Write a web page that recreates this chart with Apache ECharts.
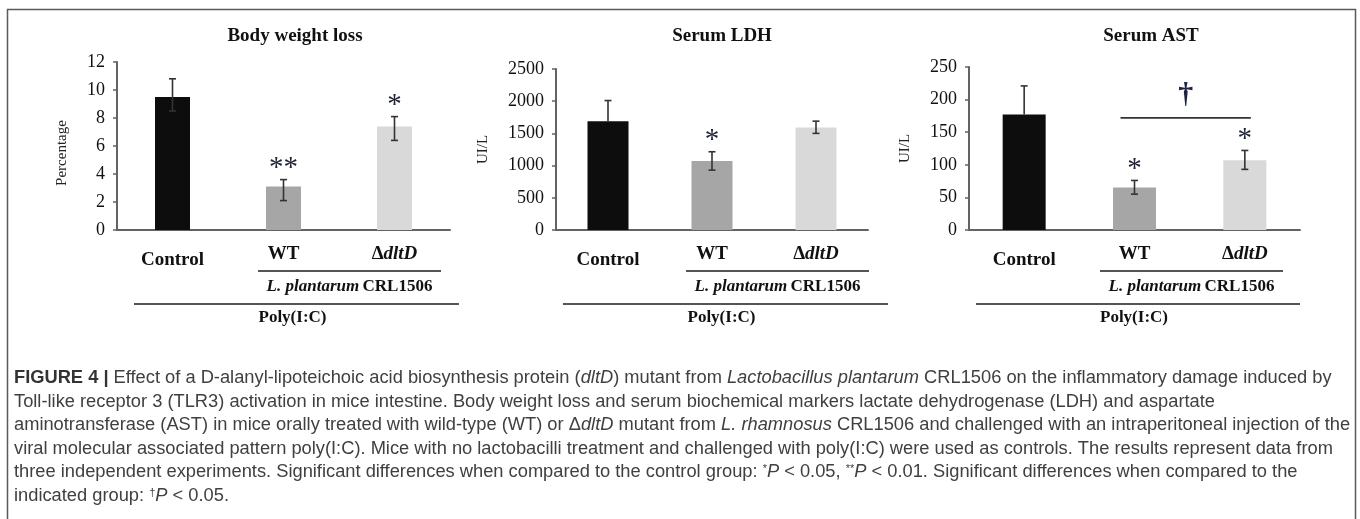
<!DOCTYPE html>
<html>
<head>
<meta charset="utf-8">
<script src="https://cdn.jsdelivr.net/npm/echarts@6/dist/echarts.min.js"></script>
<style>
  html, body { margin: 0; padding: 0; background: #fff; }
  #chart { width: 1360px; height: 519px; }
</style>
</head>
<body>
<div id="chart"></div>
<script>
const SERIF = '"Liberation Serif", "Times New Roman", serif';
const SANS = '"Liberation Sans", Arial, sans-serif';

// groups along every x axis
const categories = ['Control', 'WT', 'ΔdltD'];
const barColors = ['#0d0d0d', '#a6a6a6', '#d9d9d9'];

// body weight loss (%), bar + error bar ends
const weightLoss = [9.5, 3.1, 7.4];
const weightLossLow = [8.5, 2.1, 6.4];
const weightLossHigh = [10.8, 3.6, 8.1];
const weightLossSig = ['', '**', '*'];

// serum LDH (UI/L) — control only shows the upper whisker
const ldh = [1690, 1070, 1590];
const ldhLow = [1690, 930, 1500];
const ldhHigh = [2010, 1215, 1690];
const ldhSig = ['', '*', ''];

// serum AST (UI/L)
const ast = [177, 65, 107];
const astLow = [177, 55, 93];
const astHigh = [221, 76, 122];
const astSig = ['', '*', '*'];
const astBracket = [1, 2, 172]; // WT vs ΔdltD, dagger
const astBracketMark = '†';

// y axis ranges: [max, interval]
const weightLossAxis = [12, 2];
const ldhAxis = [2500, 500];
const astAxis = [250, 50];

const captionLines = [
  '{b|FIGURE 4 |} Effect of a D-alanyl-lipoteichoic acid biosynthesis protein ({i|dltD}) mutant from {i|Lactobacillus plantarum} CRL1506 on the inflammatory damage induced by',
  'Toll-like receptor 3 (TLR3) activation in mice intestine. Body weight loss and serum biochemical markers lactate dehydrogenase (LDH) and aspartate',
  'aminotransferase (AST) in mice orally treated with wild-type (WT) or Δ{i|dltD} mutant from {i|L. rhamnosus} CRL1506 and challenged with an intraperitoneal injection of the',
  'viral molecular associated pattern poly(I:C). Mice with no lactobacilli treatment and challenged with poly(I:C) were used as controls. The results represent data from',
  'three independent experiments. Significant differences when compared to the control group: {s|*}{i|P} < 0.05, {s|**}{i|P} < 0.01. Significant differences when compared to the',
  'indicated group: {s|†}{i|P} < 0.05.'
];

// panel layout (pixels) — tree/poly are offsets from the grid's left edge
const panels = [
  { title: 'Body weight loss', titleX: 290, left: 117, top: 62, width: 333, yName: 'Percentage', nameGap: 47, namePad: [0, 14, 0, 0],
    axis: weightLossAxis, values: weightLoss, low: weightLossLow, high: weightLossHigh, sig: weightLossSig, barWidth: 35, tree: [141, 324], poly: [17, 342] },
  { title: 'Serum LDH', titleX: 717, left: 556, top: 69, width: 312, yName: 'UI/L', nameGap: 65, namePad: 0,
    axis: ldhAxis, values: ldh, low: ldhLow, high: ldhHigh, sig: ldhSig, barWidth: 41, tree: [130, 313], poly: [7, 332] },
  { title: 'Serum AST', titleX: 1146, left: 969, top: 67, width: 331, yName: 'UI/L', nameGap: 56, namePad: 0,
    axis: astAxis, values: ast, low: astLow, high: astHigh, sig: astSig, barWidth: 43, tree: [131, 314], poly: [7, 331] }
];
const AXIS_Y = 230;

const chart = echarts.init(document.getElementById('chart'), null, { renderer: 'canvas' });

const axisLine = { lineStyle: { color: '#636363', width: 2 } };

const grid = panels.map(p => ({ left: p.left, top: p.top, width: p.width, height: AXIS_Y - p.top }));

const title = panels.map(p => ({
  text: p.title, left: p.titleX, top: 22, textAlign: 'center',
  textStyle: { fontFamily: SERIF, fontSize: 19, fontWeight: 'bold', color: '#111' }
}));

const xAxis = panels.map((p, k) => ({
  type: 'category', gridIndex: k, data: categories,
  axisLine, axisTick: { show: false },
  axisLabel: {
    interval: 0, margin: 15, color: '#111',
    formatter: v => v === 'Control' ? '{c|Control}' : v.charAt(0) === 'Δ' ? '{d|Δ}{i|' + v.slice(1) + '}' : '{b|' + v + '}',
    rich: {
      c: { fontFamily: SERIF, fontSize: 19, fontWeight: 'bold', color: '#111', padding: [6, 0, 0, 0] },
      b: { fontFamily: SERIF, fontSize: 19, fontWeight: 'bold', color: '#111' },
      d: { fontFamily: SERIF, fontSize: 19, fontWeight: 'bold', color: '#111' },
      i: { fontFamily: SERIF, fontSize: 19, fontWeight: 'bold', fontStyle: 'italic', color: '#111' }
    }
  }
}));

const yAxis = panels.map((p, k) => ({
  type: 'value', gridIndex: k, min: 0, max: p.axis[0], interval: p.axis[1],
  name: p.yName, nameLocation: 'middle', nameGap: p.nameGap,
  nameTextStyle: { fontFamily: SERIF, fontSize: 15, color: '#222', padding: p.namePad },
  axisLine: { show: true, lineStyle: axisLine.lineStyle },
  axisTick: { show: true, length: 4, lineStyle: { color: '#636363', width: 1.5 } },
  axisLabel: { fontFamily: SERIF, fontSize: 18, color: '#111', margin: 12, formatter: v => String(v) },
  splitLine: { show: false }
}));

const series = [];
panels.forEach((p, k) => {
  series.push({
    type: 'bar', xAxisIndex: k, yAxisIndex: k, barWidth: p.barWidth, silent: true,
    data: p.values.map((v, i) => ({ value: v, itemStyle: { color: barColors[i] } }))
  });
  // error bars
  series.push({
    type: 'custom', xAxisIndex: k, yAxisIndex: k, silent: true, z: 3,
    encode: { x: 0, y: [1, 2] },
    data: p.values.map((v, i) => [i, p.low[i], p.high[i], v]),
    renderItem: (params, api) => {
      const i = api.value(0), lo = api.value(1), hi = api.value(2), v = api.value(3);
      const t = api.coord([i, hi]);
      const b = api.coord([i, lo]);
      const cap = 3.5;
      const st = { stroke: '#333', lineWidth: 1.6 };
      const children = [
        { type: 'line', shape: { x1: t[0], y1: t[1], x2: b[0], y2: b[1] }, style: st },
        { type: 'line', shape: { x1: t[0] - cap, y1: t[1], x2: t[0] + cap, y2: t[1] }, style: st }
      ];
      if (lo < v) children.push({ type: 'line', shape: { x1: b[0] - cap, y1: b[1], x2: b[0] + cap, y2: b[1] }, style: st });
      return { type: 'group', children };
    }
  });
  // significance stars above the whiskers
  series.push({
    type: 'custom', xAxisIndex: k, yAxisIndex: k, silent: true, z: 4,
    encode: { x: 0, y: 1 },
    data: p.values.map((v, i) => [i, p.high[i]]),
    renderItem: (params, api) => {
      const s = p.sig[params.dataIndex];
      if (!s) return null;
      const pt = api.coord([api.value(0), api.value(1)]);
      return {
        type: 'text', x: pt[0], y: pt[1] - 11,
        style: { text: s, fontFamily: SERIF, fontSize: 29, fill: '#1e2233', align: 'center', verticalAlign: 'middle' }
      };
    }
  });
});

// bracket between WT and ΔdltD on the AST panel
series.push({
  type: 'custom', xAxisIndex: 2, yAxisIndex: 2, silent: true, z: 4,
  encode: { x: 0, y: 2 },
  data: [astBracket],
  renderItem: (params, api) => {
    const a = api.coord([api.value(0), api.value(2)]);
    const b = api.coord([api.value(1), api.value(2)]);
    const x1 = a[0] - 14, x2 = b[0] + 6;
    return {
      type: 'group', children: [
        { type: 'line', shape: { x1, y1: a[1], x2, y2: a[1] }, style: { stroke: '#333', lineWidth: 1.6 } },
        { type: 'text', x: (x1 + x2) / 2, y: a[1] - 23,
          style: { text: astBracketMark, fontFamily: SERIF, fontSize: 30, fontWeight: 'bold', fill: '#1c2442', align: 'center', verticalAlign: 'middle' } }
      ]
    };
  }
});

// group brackets under the axes, frame and caption
const graphic = [
  { type: 'rect', shape: { x: 7.5, y: 9.5, width: 1348, height: 700 }, style: { fill: null, stroke: '#5a5a5a', lineWidth: 1.5 }, silent: true }
];
panels.forEach(p => {
  const t1 = p.left + p.tree[0], t2 = p.left + p.tree[1];
  const q1 = p.left + p.poly[0], q2 = p.left + p.poly[1];
  graphic.push(
    { type: 'line', shape: { x1: t1, y1: 271, x2: t2, y2: 271 }, style: { stroke: '#555', lineWidth: 2 }, silent: true },
    { type: 'text', x: (t1 + t2) / 2, y: 287, silent: true,
      style: { text: '{i|L. plantarum} {b|CRL1506}', align: 'center', verticalAlign: 'middle',
        rich: { i: { fontFamily: SERIF, fontSize: 17, fontWeight: 'bold', fontStyle: 'italic', fill: '#111' },
                b: { fontFamily: SERIF, fontSize: 17, fontWeight: 'bold', fill: '#111' } } } },
    { type: 'line', shape: { x1: q1, y1: 304, x2: q2, y2: 304 }, style: { stroke: '#555', lineWidth: 2 }, silent: true },
    { type: 'text', x: (q1 + q2) / 2 - 4, y: 318, silent: true,
      style: { text: 'Poly(I:C)', fontFamily: SERIF, fontSize: 17, fontWeight: 'bold', fill: '#111', align: 'center', verticalAlign: 'middle' } }
  );
});
const CAP = 18.3;
captionLines.forEach((line, n) => {
  graphic.push({
    type: 'text', x: 14, y: 378 + n * 23.6, silent: true,
    style: {
      text: line, fontFamily: SANS, fontSize: CAP, fill: '#404040', verticalAlign: 'middle',
      rich: {
        b: { fontFamily: SANS, fontSize: CAP, fontWeight: 'bold', fill: '#333' },
        i: { fontFamily: SANS, fontSize: CAP, fontStyle: 'italic', fill: '#404040' },
        s: { fontFamily: SANS, fontSize: 11, fill: '#404040', verticalAlign: 'top' }
      }
    }
  });
});

chart.setOption({
  backgroundColor: '#fff',
  animation: false,
  title, grid, xAxis, yAxis, series, graphic
});
</script>
</body>
</html>
